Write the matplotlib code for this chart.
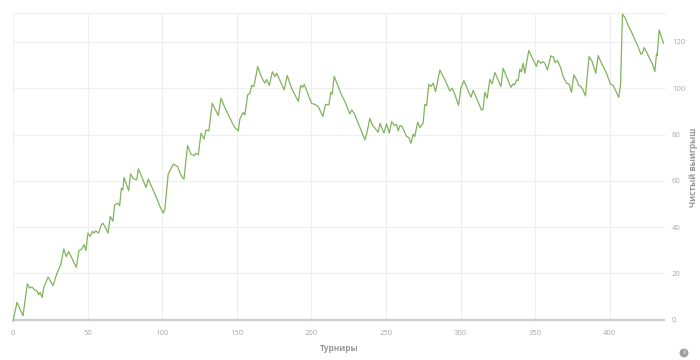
import matplotlib
matplotlib.use("Agg")
import matplotlib.pyplot as plt

# Cumulative net winnings per tournament (vertices)
tournaments = [
    0, 2.7, 6.7, 9.6, 11.2, 12.7, 14.5, 16.3, 17.2, 18.1, 19.6, 20.5, 23.5, 26.8,
    29.5, 32.0, 34.0, 35.7, 37.3, 42.4, 44.2, 46.2, 47.6, 48.9, 50.2, 51.8, 53.2,
    54.3, 55.4, 57.4, 59.2, 60.3, 61.9, 63.7, 65.2, 67.0, 68.1, 70.4, 71.5, 72.6,
    73.7, 74.4, 77.5, 78.8, 80.5, 82.9, 84.0, 86.2, 89.1, 90.7, 92.9, 96.3, 98.5,
    100.7, 101.8, 104.0, 107.4, 110.3, 113.0, 114.6, 117.0, 119.3, 121.5, 122.6,
    124.2, 126.0, 128.0, 129.3, 131.3, 133.5, 137.6, 139.4, 142.0, 147.6, 148.7,
    151.0, 152.1, 154.3, 155.4, 157.3, 158.8, 160.0, 161.5, 164.0, 166.6, 168.8,
    170.0, 171.8, 173.8, 175.5, 176.7, 181.8, 183.8, 186.7, 191.2, 192.8, 194.1,
    195.2, 200.1, 202.3, 204.6, 207.7, 209.5, 211.7, 213.0, 213.9, 215.3, 220.2,
    222.4, 225.8, 226.9, 228.7, 231.4, 233.6, 235.8, 237.0, 239.2, 240.8, 244.8,
    246.0, 248.6, 250.4, 252.2, 253.8, 255.5, 257.0, 258.2, 259.3, 260.8, 263.8,
    265.3, 266.7, 268.2, 269.3, 271.2, 272.7, 274.9, 276.0, 277.2, 278.7, 280.1,
    281.6, 283.2, 286.1, 289.5, 292.8, 294.4, 296.1, 298.6, 300.2, 302.2, 306.9,
    308.4, 310.7, 314.0, 315.1, 316.2, 317.8, 319.6, 321.1, 323.0, 327.0, 328.5,
    333.7, 335.2, 336.3, 337.5, 338.6, 339.7, 340.8, 341.9, 343.0, 345.7, 350.8,
    351.9, 353.8, 355.3, 356.4, 358.2, 360.5, 362.3, 363.2, 365.0, 367.2, 368.7,
    371.0, 372.8, 374.3, 375.9, 378.1, 379.2, 380.6, 381.7, 383.7, 386.1, 388.2,
    390.6, 392.2, 394.4, 397.8, 400.5, 402.3, 404.5, 406.0, 407.2, 408.5, 410.5,
    412.3, 414.5, 416.8, 419.0, 420.8, 421.9, 423.0, 425.0, 426.8, 428.6, 430.2,
    431.3, 431.7, 433.1, 436.0,
]
net_win = [
    -0.5, 7.5, 1.7, 15.5, 13.7, 14.1, 12.9, 12.2, 10.8, 11.8, 9.6, 13.7, 18.4, 14.7,
    20.1, 23.7, 30.6, 27.3, 29.5, 22.6, 29.8, 30.6, 32.4, 29.9, 37.4, 36.0, 38.2,
    37.4, 38.4, 37.4, 41.0, 41.7, 39.9, 37.4, 44.6, 42.5, 49.6, 50.3, 49.2, 56.8,
    56.1, 61.4, 55.7, 63.0, 61.0, 60.4, 65.2, 61.9, 57.1, 60.7, 57.5, 52.5, 48.9,
    46.0, 47.8, 62.9, 67.2, 66.2, 61.9, 60.7, 75.3, 71.5, 70.9, 71.9,
    71.2, 80.6, 78.1, 82.0, 81.6, 93.5, 88.2, 95.7, 91.6, 84.2, 83.0,
    81.6, 86.8, 89.6, 88.5, 97.1, 97.8, 101.2, 100.7, 109.4, 104.7, 102.2,
    103.8, 101.2, 107.1, 105.0, 106.5, 99.3, 105.5, 100.0, 94.3, 101.2, 100.4,
    101.7, 93.5, 93.0, 92.1, 87.8, 93.0, 92.8, 98.2, 97.4, 105.1, 97.1,
    94.3, 88.9, 90.6, 89.2, 84.9, 81.3, 77.7, 80.2, 87.0, 84.2, 81.0,
    84.9, 80.6, 84.6, 80.6, 85.6, 83.9, 84.4, 81.6, 83.9, 83.5, 79.1,
    78.7, 76.2, 80.2, 79.1, 85.3, 83.0, 84.9, 93.0, 92.5, 101.7, 100.7,
    102.2, 98.5, 107.9, 103.6, 98.8, 100.0, 97.4, 92.6, 100.0, 103.3, 96.1,
    99.0, 95.7, 90.6, 90.9, 98.2, 95.7, 103.8, 101.9, 106.8, 100.7, 108.6,
    100.4, 101.9, 101.4, 103.6, 103.3, 108.2, 107.1, 110.8, 106.5, 116.3, 109.4,
    112.0, 110.8, 111.5, 110.8, 107.9, 114.0, 113.4, 111.1, 112.0, 108.6, 105.0,
    102.2, 101.7, 98.2, 105.8, 103.2, 101.2, 100.7, 99.7, 96.7, 113.7, 111.5,
    106.5, 114.1, 110.8, 106.5, 101.7, 101.2, 98.2, 96.0, 101.4, 132.0, 130.2,
    127.0, 124.4, 120.9, 118.0, 114.7, 115.1, 117.6, 115.1, 112.7, 110.4, 107.2,
    114.7, 114.1, 125.2, 119.4,
]

x_ticks = [0, 50, 100, 150, 200, 250, 300, 350, 400]
y_ticks = [0, 20, 40, 60, 80, 100, 120]

plt.rcParams["font.family"] = ["Open Sans", "DejaVu Sans"]

fig = plt.figure(figsize=(7, 3.6), dpi=100)
ax = fig.add_axes([13 / 700, 1 - 322 / 360, 652 / 700, 309 / 360])

ax.plot(tournaments, net_win, color="#82b35e", linewidth=0.9, zorder=3,
        clip_on=False)
ax.axhline(0, color="#cccccc", linewidth=1.6, zorder=2)

ax.set_xlim(0, 437)
ax.set_ylim(-1, 132.5)
ax.set_xticks(x_ticks)
ax.set_yticks(y_ticks)
ax.grid(True, color="#efefef", linewidth=0.8)
ax.set_axisbelow(True)

for side in ["left", "bottom", "right"]:
    ax.spines[side].set_visible(False)
ax.spines["top"].set_color("#efefef")
ax.spines["top"].set_linewidth(0.8)

ax.yaxis.tick_right()
ax.yaxis.set_label_position("right")
ax.tick_params(axis="both", length=0, labelsize=5.5, labelcolor="#aaaaaa")
ax.tick_params(axis="x", pad=6)
ax.tick_params(axis="y", pad=5)

ax.set_xlabel("Турниры", fontsize=6, fontweight="bold", color="#999999",
              labelpad=5)
ax.set_ylabel("Чистый выигрыш", fontsize=6, fontweight="bold",
              color="#999999", rotation=90, labelpad=3)

fig.text(684 / 700, 1 - 353 / 360, "i", fontsize=4, fontweight="bold",
         color="white", ha="center", va="center",
         bbox=dict(boxstyle="circle,pad=0.35", fc="#a0a0a0", ec="none"))

plt.savefig("out.png", dpi=100)
